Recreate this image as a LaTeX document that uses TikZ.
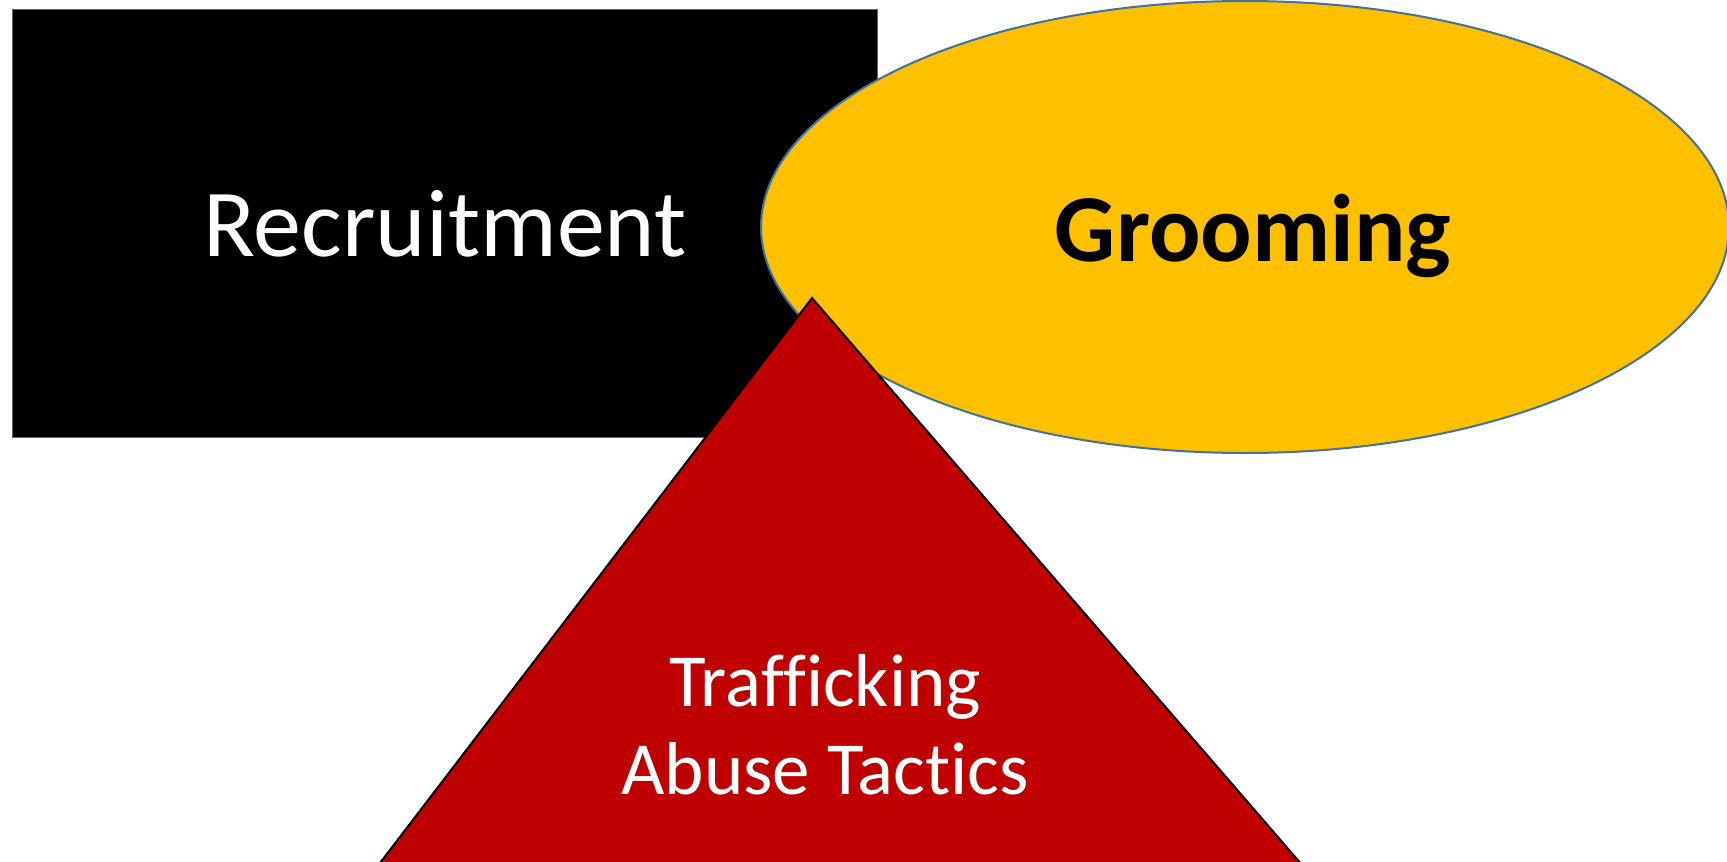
\documentclass[tikz,border=0pt]{standalone}
\usepackage{fontspec}
\setmainfont[Ligatures=NoCommon]{Carlito}
\usetikzlibrary{shapes.geometric}
\definecolor{recblack}{HTML}{000000}
\definecolor{groomyellow}{HTML}{FFC000}
\definecolor{groomedge}{HTML}{41719C}
\definecolor{trired}{HTML}{BF0000}
\tikzset{
  recbox/.style={rectangle, fill=recblack, draw=black!60, line width=0.8pt, minimum width=865pt, minimum height=428pt, inner sep=0pt},
  groomell/.style={ellipse, fill=groomyellow, draw=groomedge, line width=2pt, minimum width=968pt, minimum height=452pt, inner sep=0pt},
  tri/.style={fill=trired, draw=black, line width=2pt, line join=miter},
  bigtext/.style={font=\fontsize{96}{110}\selectfont, anchor=base, inner sep=0pt},
  smalltext/.style={font=\fontsize{75}{88}\selectfont, anchor=base, inner sep=0pt, text=white},
}
\begin{document}
\begin{tikzpicture}[x=1pt,y=-1pt]
\useasboundingbox (0,0) rectangle (1727,862);
\clip (0,0) rectangle (1727,862);
\node[recbox] (rec) at (444.5,223) {};
\node[groomell] (groom) at (1245,227) {};
\coordinate (apex) at (812,298);
\coordinate (bl) at (367,880);
\coordinate (br) at (1315,880);
\draw[tri] (bl) -- (apex) -- (br) -- cycle;
\node[bigtext, text=white] (rectext) at (445,256) {Recruitment};
\node[bigtext, font=\fontsize{96}{110}\selectfont\bfseries] (groomtext) at (1253,261) {Grooming};
\node[smalltext] (tr1) at (825,706) {Trafficking};
\node[smalltext] (tr2) at (825,794) {Abuse Tactics};
\end{tikzpicture}
\end{document}
